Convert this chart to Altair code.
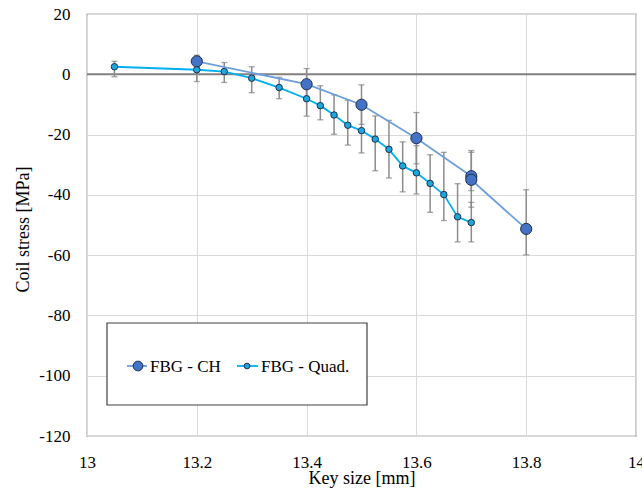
import altair as alt
import pandas as pd

# ---- data ----
ch_x = [13.2, 13.4, 13.5, 13.6, 13.7, 13.7, 13.8]
ch_y = [4.3, -3.3, -10.1, -21.2, -33.8, -35.0, -51.3]
ch_lo = [2.3, -8.5, -16.6, -29.7, -38.6, -44.1, -59.9]
ch_hi = [6.3, 1.9, -3.5, -12.7, -25.3, -25.9, -38.3]

quad_x = [13.05, 13.2, 13.25, 13.3, 13.35, 13.4, 13.425, 13.45, 13.475, 13.5,
          13.525, 13.55, 13.575, 13.6, 13.625, 13.65, 13.675, 13.7]
quad_y = [2.5, 1.5, 0.9, -1.3, -4.4, -8.1, -10.4, -13.5, -16.9, -18.7,
          -21.5, -24.9, -30.4, -32.7, -36.2, -39.9, -47.3, -49.2]
quad_lo = [-0.8, -2.4, -2.7, -6.1, -8.1, -13.9, -15.1, -19.9, -23.5, -26.1,
           -32.0, -34.4, -39.0, -39.7, -45.8, -48.5, -55.6, -55.6]
quad_hi = [4.3, 5.4, 3.9, 2.5, -1.0, -2.3, -3.8, -6.8, -8.6, -11.3,
           -13.8, -15.3, -22.4, -23.7, -26.7, -25.9, -36.3, -42.5]

series_names = ["FBG - CH", "FBG - Quad."]
x_ticks = [13.0, 13.2, 13.4, 13.6, 13.8, 14.0]
y_ticks = [20, 0, -20, -40, -60, -80, -100, -120]

marker_fill = ["#4472C4", "#1CA8DD"]
line_color = ["#6E9FDA", "#00B0F0"]
marker_size = [125, 42]
MARKER_EDGE = "#1F2D50"

rows = []
for i in range(len(ch_x)):
    rows.append(dict(series=series_names[0], idx=i, x=ch_x[i], y=ch_y[i], lo=ch_lo[i], hi=ch_hi[i]))
for i in range(len(quad_x)):
    rows.append(dict(series=series_names[1], idx=i, x=quad_x[i], y=quad_y[i], lo=quad_lo[i], hi=quad_hi[i]))
df = pd.DataFrame(rows)

FONT = "Liberation Serif"

x_scale = alt.Scale(domain=[13, 14], nice=False, zero=False)
y_scale = alt.Scale(domain=[-120, 20], nice=False, zero=False)

x_axis = alt.Axis(values=x_ticks, format=".1~f", title="Key size [mm]",
                  grid=True, gridColor="#D9D9D9", gridWidth=1,
                  ticks=False, tickSize=0, domain=False,
                  labelFont=FONT, labelFontSize=17, labelColor="#000000",
                  labelPadding=18, labelFlush=False,
                  titleFont=FONT, titleFontSize=18, titleFontWeight="normal",
                  titleColor="#000000", titleY=33, titleBaseline="top")
y_axis = alt.Axis(values=y_ticks, labelExpr="'' + datum.value", title="Coil stress [MPa]",
                  grid=True, gridColor="#D9D9D9", gridWidth=1,
                  ticks=False, tickSize=0, domain=False,
                  labelFont=FONT, labelFontSize=17, labelColor="#000000",
                  labelPadding=17, labelFlush=False,
                  titleFont=FONT, titleFontSize=18, titleFontWeight="normal",
                  titleColor="#000000", titleX=-64, titleY=215, titleBaseline="middle")

X = alt.X("x:Q", scale=x_scale, axis=x_axis)
Y = alt.Y("y:Q", scale=y_scale, axis=y_axis)

base = alt.Chart(df)

zero = alt.Chart(pd.DataFrame({"y": [0]})).mark_rule(color="#808080", strokeWidth=2).encode(
    y=alt.Y("y:Q", scale=y_scale, axis=y_axis))

err = base.mark_rule(color="#8C8C8C", strokeWidth=1.5).encode(
    x=X, y=alt.Y("lo:Q", scale=y_scale, axis=y_axis), y2="hi:Q")
cap_lo = base.mark_tick(orient="horizontal", size=6, thickness=1.3, color="#7F7F7F").encode(
    x=X, y=alt.Y("lo:Q", scale=y_scale, axis=y_axis))
cap_hi = base.mark_tick(orient="horizontal", size=6, thickness=1.3, color="#7F7F7F").encode(
    x=X, y=alt.Y("hi:Q", scale=y_scale, axis=y_axis))

lines = base.mark_line(strokeWidth=1.8).encode(
    x=X, y=Y,
    stroke=alt.Stroke("series:N", scale=alt.Scale(domain=series_names, range=line_color), legend=None),
    order=alt.Order("idx:Q"), detail="series:N")

points = base.mark_point(filled=True, opacity=1, shape="circle", stroke=MARKER_EDGE, strokeWidth=1).encode(
    x=X, y=Y,
    fill=alt.Fill("series:N", scale=alt.Scale(domain=series_names, range=marker_fill), legend=None),
    size=alt.condition(alt.datum.series == series_names[0], alt.value(marker_size[0]), alt.value(marker_size[1])))

# ---- legend box (drawn as guide decoration) ----
box = alt.Chart(pd.DataFrame({"a": [0]})).mark_rect(fill="white", stroke="#404040", strokeWidth=1.2).encode(
    x=alt.value(20), x2=alt.value(280), y=alt.value(309), y2=alt.value(391))

legend_layers = []
entry_pos = [(40, 60, 51, 63), (150, 171, 160, 174)]  # line start, line end, marker x, label x
LEG_Y = 352
for i, name in enumerate(series_names):
    x0, x1, xm, xt = entry_pos[i]
    ldf = pd.DataFrame({"label": [name]})
    legend_layers.append(alt.Chart(ldf).mark_rule(color=line_color[i], strokeWidth=1.8).encode(
        x=alt.value(x0), x2=alt.value(x1), y=alt.value(LEG_Y)))
    legend_layers.append(alt.Chart(ldf).mark_point(filled=True, opacity=1, shape="circle",
                                                   fill=marker_fill[i], stroke=MARKER_EDGE, strokeWidth=1,
                                                   size=[95, 32][i]).encode(
        x=alt.value(xm), y=alt.value(LEG_Y)))
    legend_layers.append(alt.Chart(ldf).mark_text(align="left", baseline="middle", font=FONT,
                                                  fontSize=17, color="#000000").encode(
        x=alt.value(xt), y=alt.value(LEG_Y + 1), text="label:N"))

chart = alt.layer(zero, err, cap_lo, cap_hi, lines, points, box, *legend_layers).properties(
    width=549, height=422,
    padding={"left": 87, "top": 14, "right": 6, "bottom": 56},
    autosize=alt.AutoSizeParams(type="none"),
).configure_view(stroke="#595959", strokeWidth=1.2)

chart.save("out.html", embed_options={"renderer": "svg", "actions": False})
